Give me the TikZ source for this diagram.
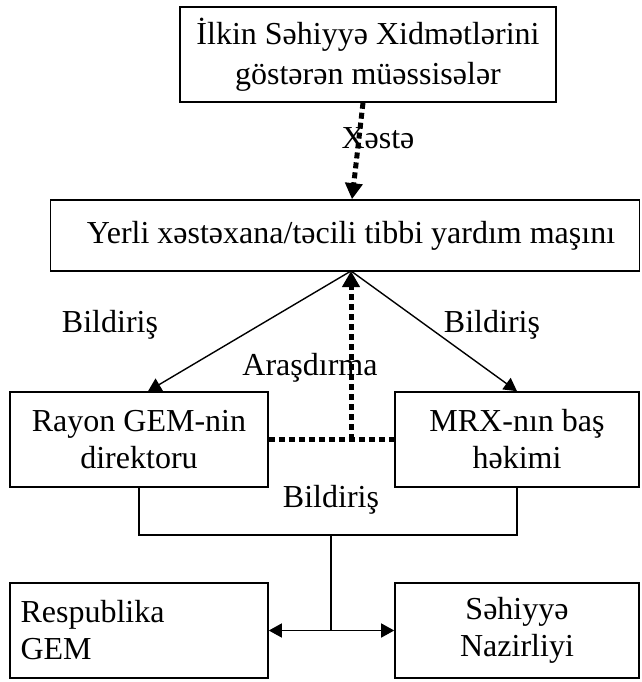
\documentclass[tikz,border=0pt]{standalone}
\usepackage{fontspec}
\setmainfont{Liberation Serif}
\usetikzlibrary{arrows.meta,positioning}

\begin{document}
\begin{tikzpicture}[
  x=1pt, y=-1pt,
  every node/.style={font=\fontsize{32}{37}\selectfont},
  box/.style={draw, line width=1.6pt, inner sep=0pt, minimum height=95pt, align=center},
  arrow/.style={-{Triangle[length=13pt,width=14pt]}, line width=1.4pt},
  dotarrow/.style={-{Triangle[length=16pt,width=17pt]}, line width=5pt, dash pattern=on 6pt off 4pt},
  dotline/.style={line width=5pt, dash pattern=on 6pt off 4pt}
]
\useasboundingbox (0,0) rectangle (641,682);
\node[box, minimum width=376pt] (primary) at (368,54.5) {İlkin Səhiyyə Xidmətlərini\\[3pt]göstərən müəssisələr};
\node[box, minimum width=589pt, minimum height=71pt] (hospital) at (345,235.5) {};
\node (hospitaltext) at (351,235.5) {Yerli xəstəxana/təcili tibbi yardım maşını};
\node[box, minimum width=258pt] (district) at (139,439.5) {Rayon GEM-nin\\direktoru};
\node[box, minimum width=244pt] (chief) at (517,439.5) {MRX-nın baş\\həkimi};
\node[box, minimum width=258pt, align=left, text width=237pt] (republic) at (139,630.5) {Respublika\\GEM};
\node[box, minimum width=244pt] (ministry) at (517,630.5) {Səhiyyə\\Nazirliyi};
\coordinate (apex) at (351,271);
\coordinate (join) at (331,535);

\draw[dotarrow] ([xshift=-5pt]primary.south) -- ([xshift=7pt]hospital.north);
\node (patient) at (378,138) {Xəstə};

\draw[arrow] (apex) -- ([xshift=9pt]district.north);
\draw[arrow] (apex) -- (chief.north);
\node (note1) at (110,325) {Bildiriş};
\node (note2) at (492,325) {Bildiriş};

\draw[dotline] (district.east) -- (chief.west);
\draw[dotarrow] (apex |- district.east) -- (apex);
\node (inquiry) at (310,368) {Araşdırma};

\draw[line width=1.4pt] (district.south) |- (join) -| (chief.south);
\node (note3) at (331,500) {Bildiriş};
\draw[line width=1.4pt] (join) -- (join |- republic.east) coordinate (fork);
\draw[arrow] (fork) -- (republic.east);
\draw[arrow] (fork) -- (ministry.west);
\end{tikzpicture}
\end{document}
